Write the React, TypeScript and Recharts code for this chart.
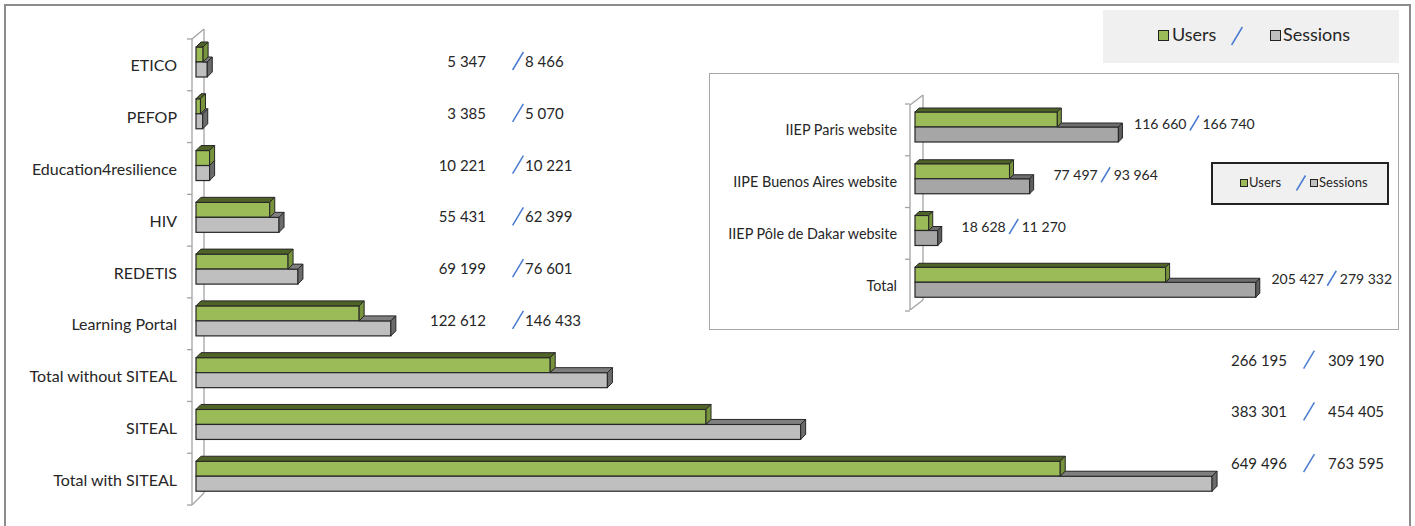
import React from "react";
import { BarChart, Bar, XAxis, YAxis, LabelList, Customized } from "recharts";

// main chart
const mainCategories = [
  "ETICO",
  "PEFOP",
  "Education4resilience",
  "HIV",
  "REDETIS",
  "Learning Portal",
  "Total without SITEAL",
  "SITEAL",
  "Total with SITEAL",
];
const mainUsers = [5347, 3385, 10221, 55431, 69199, 122612, 266195, 383301, 649496];
const mainSessions = [8466, 5070, 10221, 62399, 76601, 146433, 309190, 454405, 763595];

// inset chart (IIEP websites)
const insetCategories = [
  "IIEP Paris website",
  "IIPE Buenos Aires website",
  "IIEP Pôle de Dakar website",
  "Total",
];
const insetUsers = [116660, 77497, 11270, 205427];
const insetSessions = [166740, 93964, 18628, 279332];
// figures as printed next to the bars (Dakar is printed the other way round)
const insetUsersPrinted = [116660, 77497, 18628, 205427];
const insetSessionsPrinted = [166740, 93964, 11270, 279332];

const FONT = "Lato, 'Liberation Sans', sans-serif";
const TEXT = "#262626";
const SLASH = "#4a7bd0";
const OUTLINE = "#262626";

const GREEN = { front: "#9BBB59", top: "#4F6228", side: "#77933C" };
const GRAY = { front: "#BFBFBF", top: "#7F7F7F", side: "#6B6B6B" };
const GRAY_DARK = { front: "#A6A6A6", top: "#6E6E6E", side: "#5E5E5E" };

const fmt = (n: number) => String(n).replace(/\B(?=(\d{3})+(?!\d))/g, " ");

const mainData = mainCategories.map((name, i) => ({
  name,
  users: mainUsers[i],
  sessions: mainSessions[i],
}));

const insetData = insetCategories.map((name, i) => ({
  name,
  users: insetUsers[i],
  sessions: insetSessions[i],
}));

type Skin = { front: string; top: string; side: string };

// 3D-looking box: front face, top face and right face
function makeBox(skin: Skin, d: number, under: boolean) {
  return (p: any) => {
    const { x, y, width, height, payload } = p;
    if (!width || width <= 0) return <g />;
    let topStart = x;
    if (under && payload) topStart = x + width * Math.min(1, payload.users / payload.sessions);
    const r = x + width;
    return (
      <g>
        <rect x={x} y={y} width={width} height={height} fill={skin.front} stroke={OUTLINE} strokeWidth={1.2} />
        {topStart < r - 0.5 && (
          <polygon
            points={`${topStart},${y} ${topStart + d},${y - d} ${r + d},${y - d} ${r},${y}`}
            fill={skin.top}
            stroke={OUTLINE}
            strokeWidth={1}
            strokeLinejoin="round"
          />
        )}
        <polygon
          points={`${r},${y} ${r + d},${y - d} ${r + d},${y + height - d} ${r},${y + height}`}
          fill={skin.side}
          stroke={OUTLINE}
          strokeWidth={1}
          strokeLinejoin="round"
        />
      </g>
    );
  };
}

type WallProps = {
  fx: number;
  bx: number;
  topF: number;
  topB: number;
  botF: number;
  botB: number;
  ticks: number[];
};

function Wall({ fx, bx, topF, topB, botF, botB, ticks }: WallProps) {
  const c = "#a3a3a3";
  return (
    <g>
      <line x1={fx} y1={topF} x2={fx} y2={botF} stroke={c} strokeWidth={1.3} />
      <line x1={bx} y1={topB} x2={bx} y2={botB} stroke={c} strokeWidth={1.3} />
      <line x1={fx} y1={topF} x2={bx} y2={topB} stroke={c} strokeWidth={1.3} />
      <line x1={fx} y1={botF} x2={bx} y2={botB} stroke={c} strokeWidth={1.3} />
      {ticks.map((t, i) => (
        <line key={i} x1={fx - 5} y1={t} x2={fx} y2={t} stroke={c} strokeWidth={1.3} />
      ))}
    </g>
  );
}

function Slash({ x, y, h }: { x: number; y: number; h: number }) {
  return <line x1={x - h * 0.3} y1={y + h / 2} x2={x + h * 0.3} y2={y - h / 2} stroke={SLASH} strokeWidth={1.5} />;
}

// main chart geometry
const M_W = 1415;
const M_H = 526;
const M_LEFT = 196;
const M_TOP = 36;
const M_BOTTOM = 24;
const M_RIGHT = 154.5;
const M_BAND = (M_H - M_TOP - M_BOTTOM) / mainCategories.length;

// inset chart geometry
const I_X = 709;
const I_Y = 73;
const I_W = 690;
const I_H = 257;
const I_LEFT = 206;
const I_TOP = 28;
const I_BOTTOM = 22;
const I_RIGHT = 118;
const I_BAND = (I_H - I_TOP - I_BOTTOM) / insetCategories.length;

const pickIndex = (p: any, arr: number[]) => (typeof p.index === "number" ? p.index : arr.indexOf(p.value));

const mainLabel = (p: any) => {
  const i = pickIndex(p, mainSessions);
  if (i < 0) return null;
  const vb = p.viewBox && typeof p.viewBox.y === "number" ? p.viewBox : p;
  const big = i >= 6;
  const cy = vb.y + (big ? -13 : -1);
  const slashX = big ? 1309 : 518;
  return (
    <g fontFamily={FONT} fontSize={15} fill={TEXT}>
      <text x={slashX - (big ? 22 : 32)} y={cy} textAnchor="end" dominantBaseline="central">
        {fmt(mainUsers[i])}
      </text>
      <Slash x={slashX} y={cy} h={18} />
      <text x={slashX + (big ? 19 : 7)} y={cy} textAnchor="start" dominantBaseline="central">
        {fmt(mainSessions[i])}
      </text>
    </g>
  );
};

const insetLabel = (p: any) => {
  const i = pickIndex(p, insetSessions);
  if (i < 0) return null;
  const vb = p.viewBox && typeof p.viewBox.y === "number" ? p.viewBox : p;
  const cy = vb.y - 4;
  const slashX = vb.x + vb.width + 76;
  return (
    <g fontFamily={FONT} fontSize={14} fill={TEXT}>
      <text x={slashX - 8} y={cy} textAnchor="end" dominantBaseline="central">
        {fmt(insetUsersPrinted[i])}
      </text>
      <Slash x={slashX} y={cy} h={15} />
      <text x={slashX + 8} y={cy} textAnchor="start" dominantBaseline="central">
        {fmt(insetSessionsPrinted[i])}
      </text>
    </g>
  );
};

const mainTick = (p: any) => (
  <text x={M_LEFT - 19} y={p.y + 3} textAnchor="end" dominantBaseline="central" fontFamily={FONT} fontSize={16} fill={TEXT}>
    {p.payload.value}
  </text>
);

const insetTick = (p: any) => (
  <text x={I_LEFT - 18} y={p.y + 3} textAnchor="end" dominantBaseline="central" fontFamily={FONT} fontSize={14.4} fill={TEXT}>
    {p.payload.value}
  </text>
);

function LegendSwatch({ color, size, left, top }: { color: string; size: number; left: number; top: number }) {
  return (
    <div
      style={{
        position: "absolute",
        left,
        top,
        width: size,
        height: size,
        background: color,
        border: "1.3px solid #222",
        boxSizing: "border-box",
      }}
    />
  );
}

export default function App() {
  const mainTicks = Array.from({ length: mainCategories.length + 1 }, (_, k) => M_TOP + 3 + k * M_BAND);
  const insetTicks = Array.from({ length: insetCategories.length + 1 }, (_, k) => I_TOP + 3 + k * I_BAND);

  return (
    <div
      style={{
        position: "absolute",
        left: 0,
        top: 0,
        width: 1415,
        height: 526,
        overflow: "hidden",
        background: "#fff",
        fontFamily: FONT,
      }}
    >
      <div
        style={{
          position: "absolute",
          left: 4,
          top: 4,
          width: 1407,
          height: 560,
          border: "2px solid #8c8c8c",
          boxSizing: "border-box",
        }}
      />

      <div style={{ position: "absolute", left: 0, top: 0 }}>
        <BarChart
          width={M_W}
          height={M_H}
          data={mainData}
          layout="vertical"
          margin={{ top: M_TOP, right: M_RIGHT, bottom: M_BOTTOM, left: 0 }}
          barGap={0}
        >
          <Customized
            component={
              <Wall
                fx={M_LEFT - 4}
                bx={M_LEFT + 8}
                topF={M_TOP + 3}
                topB={M_TOP - 7}
                botF={M_H - M_BOTTOM + 3}
                botB={M_H - M_BOTTOM - 9}
                ticks={mainTicks}
              />
            }
          />
          <XAxis type="number" domain={[0, 800000]} hide />
          <YAxis
            type="category"
            dataKey="name"
            width={M_LEFT}
            axisLine={false}
            tickLine={false}
            interval={0}
            tick={mainTick}
          />
          <Bar dataKey="users" barSize={15} isAnimationActive={false} shape={makeBox(GREEN, 5, false)} />
          <Bar dataKey="sessions" barSize={15} isAnimationActive={false} shape={makeBox(GRAY, 5, true)}>
            <LabelList dataKey="sessions" content={mainLabel} />
          </Bar>
        </BarChart>
      </div>

      {/* main legend */}
      <div
        style={{
          position: "absolute",
          left: 1103,
          top: 10,
          width: 296,
          height: 53,
          background: "#f0f0f0",
        }}
      >
        <LegendSwatch color={GREEN.front} size={11} left={55} top={20} />
        <div style={{ position: "absolute", left: 69, top: 13, fontSize: 18, lineHeight: "22px", color: TEXT }}>Users</div>
        <svg style={{ position: "absolute", left: 124, top: 14 }} width={20} height={24}>
          <Slash x={10} y={12} h={18} />
        </svg>
        <LegendSwatch color={GRAY.front} size={11} left={167} top={20} />
        <div style={{ position: "absolute", left: 180, top: 13, fontSize: 18, lineHeight: "22px", color: TEXT }}>Sessions</div>
      </div>

      {/* inset chart */}
      <div
        style={{
          position: "absolute",
          left: I_X,
          top: I_Y,
          width: I_W,
          height: I_H,
          background: "#fff",
          outline: "1.6px solid #a6a6a6",
          outlineOffset: -1.6,
        }}
      >
        <BarChart
          width={I_W}
          height={I_H}
          data={insetData}
          layout="vertical"
          margin={{ top: I_TOP, right: I_RIGHT, bottom: I_BOTTOM, left: 0 }}
          barGap={0}
        >
          <Customized
            component={
              <Wall
                fx={I_LEFT - 5}
                bx={I_LEFT + 8}
                topF={I_TOP + 4}
                topB={I_TOP - 6}
                botF={I_H - I_BOTTOM + 2}
                botB={I_H - I_BOTTOM - 8}
                ticks={insetTicks}
              />
            }
          />
          <XAxis type="number" domain={[0, 300000]} hide />
          <YAxis
            type="category"
            dataKey="name"
            width={I_LEFT}
            axisLine={false}
            tickLine={false}
            interval={0}
            tick={insetTick}
          />
          <Bar dataKey="users" barSize={15} isAnimationActive={false} shape={makeBox(GREEN, 4, false)} />
          <Bar dataKey="sessions" barSize={15} isAnimationActive={false} shape={makeBox(GRAY_DARK, 4, true)}>
            <LabelList dataKey="sessions" content={insetLabel} />
          </Bar>
        </BarChart>
      </div>

      {/* inset legend */}
      <div
        style={{
          position: "absolute",
          left: 1211,
          top: 162,
          width: 178,
          height: 43,
          background: "#f0f0f0",
          border: "2px solid #222",
          boxSizing: "border-box",
        }}
      >
        <LegendSwatch color={GREEN.front} size={8} left={27} top={15} />
        <div style={{ position: "absolute", left: 36, top: 10, fontSize: 13, lineHeight: "17px", color: TEXT }}>Users</div>
        <svg style={{ position: "absolute", left: 81, top: 9 }} width={14} height={20}>
          <Slash x={7} y={10} h={15} />
        </svg>
        <LegendSwatch color={GRAY.front} size={8} left={97} top={15} />
        <div style={{ position: "absolute", left: 106, top: 10, fontSize: 13, lineHeight: "17px", color: TEXT }}>Sessions</div>
      </div>
    </div>
  );
}
